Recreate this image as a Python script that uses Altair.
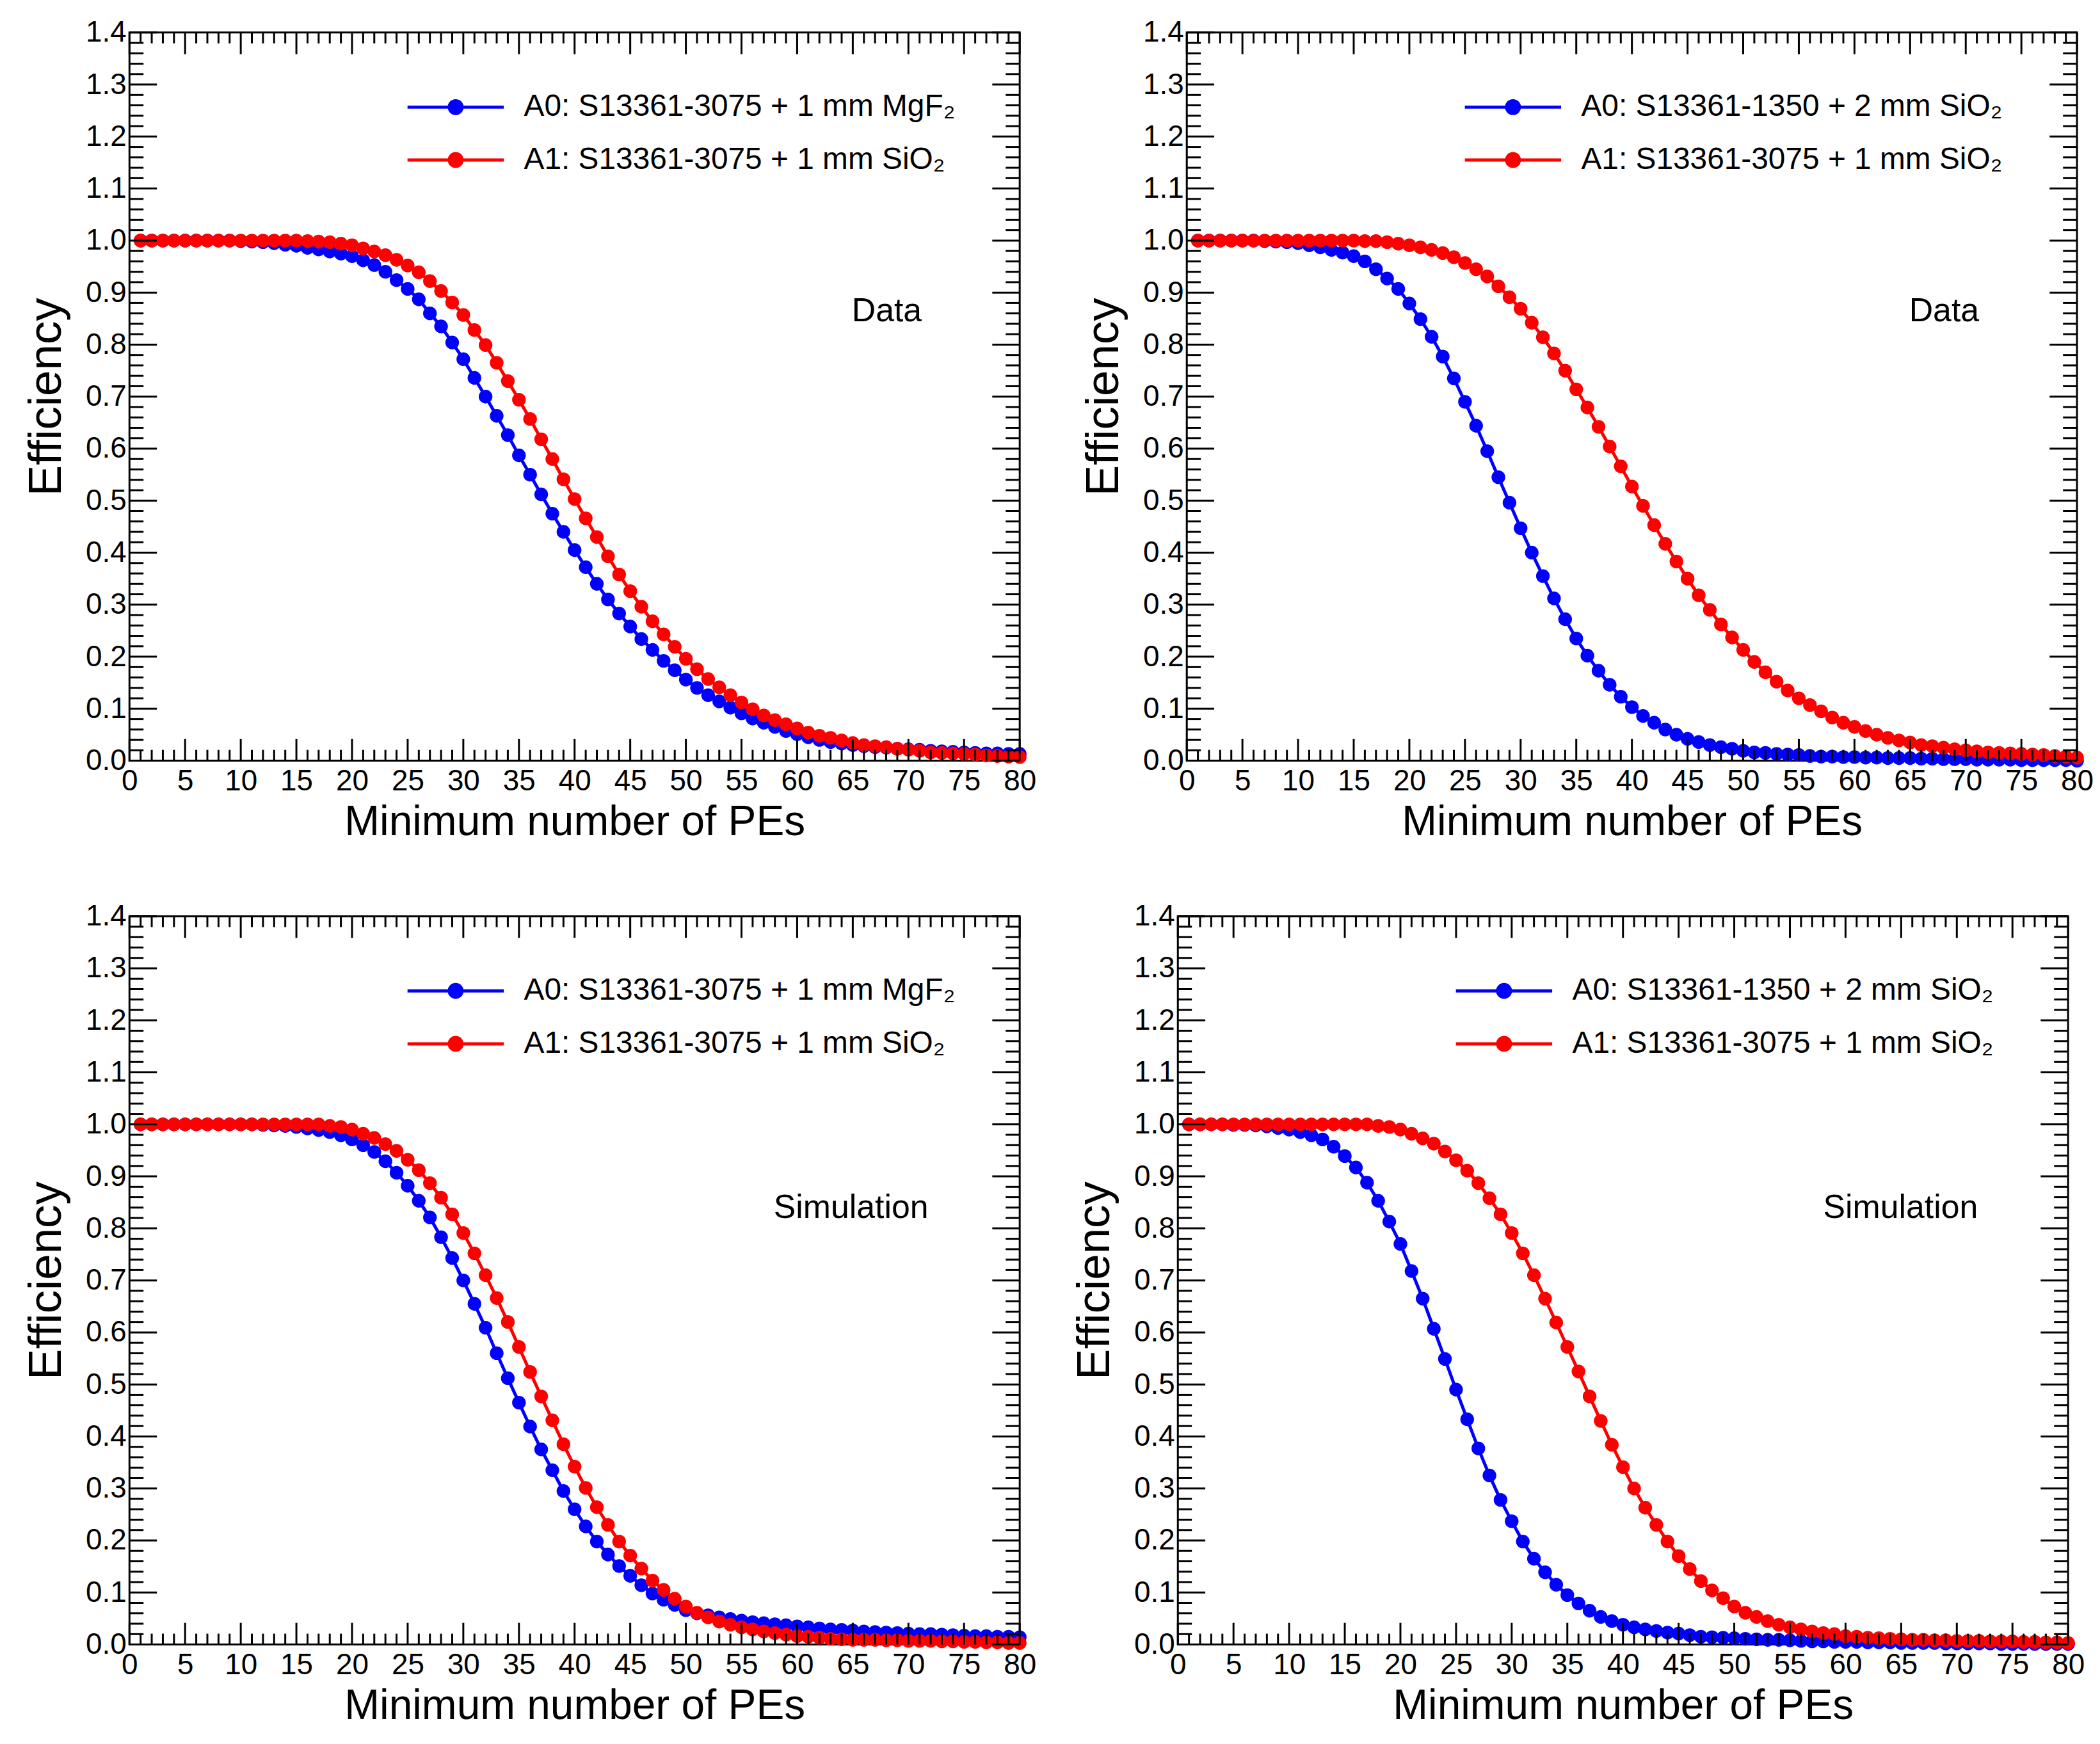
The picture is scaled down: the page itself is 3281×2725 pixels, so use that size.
import altair as alt
import pandas as pd

# ---------------- data ----------------
PE = list(range(1, 81))

# top-left (Data): A0 = S13361-3075 + 1 mm MgF2, A1 = S13361-3075 + 1 mm SiO2
TL_A0 = [1.0, 1.0, 1.0, 1.0, 1.0, 1.0, 1.0, 1.0, 1.0, 0.999,
         0.998, 0.997, 0.995, 0.992, 0.990, 0.986, 0.983, 0.979, 0.975, 0.970,
         0.962, 0.953, 0.940, 0.924, 0.907, 0.887, 0.860, 0.835, 0.804, 0.772,
         0.736, 0.700, 0.663, 0.626, 0.587, 0.550, 0.512, 0.475, 0.440, 0.405,
         0.372, 0.340, 0.310, 0.283, 0.258, 0.234, 0.213, 0.192, 0.174, 0.156,
         0.140, 0.126, 0.114, 0.102, 0.091, 0.081, 0.073, 0.065, 0.057, 0.051,
         0.045, 0.040, 0.036, 0.033, 0.030, 0.028, 0.026, 0.025, 0.023, 0.022,
         0.021, 0.019, 0.018, 0.017, 0.016, 0.015, 0.014, 0.014, 0.013, 0.013]
TL_A1 = [1.0, 1.0, 1.0, 1.0, 1.0, 1.0, 1.0, 1.0, 1.0, 1.0,
         1.0, 1.0, 1.0, 1.0, 1.0, 0.999, 0.998, 0.997, 0.994, 0.991,
         0.985, 0.979, 0.972, 0.963, 0.952, 0.939, 0.922, 0.903, 0.881, 0.857,
         0.828, 0.799, 0.765, 0.730, 0.694, 0.657, 0.618, 0.580, 0.541, 0.503,
         0.466, 0.430, 0.393, 0.358, 0.326, 0.296, 0.268, 0.243, 0.219, 0.196,
         0.176, 0.157, 0.141, 0.126, 0.112, 0.099, 0.087, 0.078, 0.070, 0.062,
         0.054, 0.048, 0.044, 0.039, 0.034, 0.030, 0.028, 0.026, 0.023, 0.021,
         0.019, 0.016, 0.015, 0.014, 0.013, 0.012, 0.010, 0.009, 0.008, 0.007]

# top-right (Data): A0 = S13361-1350 + 2 mm SiO2, A1 = S13361-3075 + 1 mm SiO2
TR_A0 = [1.0, 1.0, 1.0, 1.0, 1.0, 1.0, 0.999, 0.998, 0.997, 0.995,
         0.991, 0.987, 0.982, 0.977, 0.970, 0.960, 0.945, 0.927, 0.907, 0.879,
         0.849, 0.815, 0.777, 0.735, 0.690, 0.644, 0.595, 0.545, 0.496, 0.447,
         0.400, 0.355, 0.312, 0.272, 0.235, 0.202, 0.173, 0.146, 0.123, 0.103,
         0.086, 0.073, 0.060, 0.050, 0.042, 0.036, 0.030, 0.026, 0.023, 0.019,
         0.016, 0.015, 0.013, 0.012, 0.011, 0.009, 0.008, 0.008, 0.007, 0.007,
         0.006, 0.006, 0.005, 0.005, 0.005, 0.004, 0.004, 0.003, 0.003, 0.003,
         0.002, 0.002, 0.002, 0.002, 0.001, 0.001, 0.001, 0.001, 0.001, 0.000]
TR_A1 = [1.0, 1.0, 1.0, 1.0, 1.0, 1.0, 1.0, 1.0, 1.0, 1.0,
         1.0, 1.0, 1.0, 1.0, 1.0, 0.999, 0.999, 0.997, 0.994, 0.991,
         0.987, 0.982, 0.976, 0.968, 0.957, 0.945, 0.931, 0.912, 0.891, 0.869,
         0.842, 0.814, 0.783, 0.750, 0.714, 0.679, 0.642, 0.604, 0.566, 0.527,
         0.490, 0.453, 0.417, 0.383, 0.350, 0.318, 0.290, 0.262, 0.237, 0.213,
         0.190, 0.170, 0.152, 0.135, 0.120, 0.107, 0.095, 0.083, 0.073, 0.065,
         0.057, 0.050, 0.044, 0.039, 0.035, 0.030, 0.028, 0.025, 0.022, 0.020,
         0.018, 0.016, 0.015, 0.014, 0.013, 0.012, 0.011, 0.009, 0.008, 0.006]

# bottom-left (Simulation)
BL_A0 = [1.0, 1.0, 1.0, 1.0, 1.0, 1.0, 1.0, 1.0, 1.0, 1.0,
         1.0, 0.999, 0.998, 0.997, 0.995, 0.992, 0.989, 0.985, 0.979, 0.971,
         0.960, 0.947, 0.929, 0.907, 0.882, 0.853, 0.821, 0.783, 0.743, 0.700,
         0.655, 0.609, 0.560, 0.512, 0.465, 0.419, 0.375, 0.335, 0.295, 0.260,
         0.227, 0.198, 0.173, 0.151, 0.132, 0.114, 0.098, 0.086, 0.076, 0.066,
         0.060, 0.056, 0.052, 0.049, 0.046, 0.043, 0.041, 0.039, 0.037, 0.035,
         0.033, 0.031, 0.029, 0.028, 0.027, 0.025, 0.024, 0.023, 0.022, 0.021,
         0.020, 0.020, 0.019, 0.018, 0.017, 0.016, 0.016, 0.015, 0.015, 0.014]
BL_A1 = [1.0, 1.0, 1.0, 1.0, 1.0, 1.0, 1.0, 1.0, 1.0, 1.0,
         1.0, 1.0, 1.0, 1.0, 1.0, 1.0, 1.0, 0.997, 0.995, 0.990,
         0.982, 0.974, 0.962, 0.949, 0.932, 0.912, 0.887, 0.859, 0.827, 0.791,
         0.752, 0.710, 0.666, 0.620, 0.572, 0.524, 0.477, 0.431, 0.385, 0.342,
         0.301, 0.264, 0.230, 0.198, 0.171, 0.146, 0.123, 0.105, 0.088, 0.073,
         0.061, 0.052, 0.044, 0.038, 0.033, 0.029, 0.025, 0.022, 0.019, 0.016,
         0.015, 0.013, 0.011, 0.010, 0.009, 0.009, 0.009, 0.008, 0.008, 0.007,
         0.007, 0.007, 0.006, 0.006, 0.005, 0.005, 0.004, 0.004, 0.003, 0.003]

# bottom-right (Simulation)
BR_A0 = [1.0, 1.0, 1.0, 1.0, 0.999, 0.999, 0.998, 0.996, 0.993, 0.990,
         0.985, 0.979, 0.971, 0.957, 0.939, 0.917, 0.888, 0.853, 0.813, 0.770,
         0.718, 0.665, 0.607, 0.549, 0.490, 0.433, 0.377, 0.325, 0.278, 0.237,
         0.198, 0.165, 0.139, 0.115, 0.095, 0.079, 0.065, 0.053, 0.045, 0.038,
         0.033, 0.029, 0.026, 0.023, 0.021, 0.018, 0.015, 0.014, 0.013, 0.012,
         0.011, 0.010, 0.009, 0.009, 0.008, 0.007, 0.006, 0.006, 0.005, 0.005,
         0.005, 0.004, 0.004, 0.004, 0.003, 0.003, 0.003, 0.003, 0.002, 0.002,
         0.002, 0.002, 0.002, 0.001, 0.001, 0.001, 0.001, 0.001, 0.001, 0.001]
BR_A1 = [1.0, 1.0, 1.0, 1.0, 1.0, 1.0, 1.0, 1.0, 1.0, 1.0,
         1.0, 1.0, 1.0, 1.0, 1.0, 1.0, 1.0, 0.997, 0.995, 0.990,
         0.982, 0.973, 0.963, 0.948, 0.931, 0.911, 0.887, 0.858, 0.827, 0.791,
         0.752, 0.710, 0.665, 0.619, 0.572, 0.525, 0.477, 0.430, 0.384, 0.341,
         0.300, 0.263, 0.230, 0.198, 0.170, 0.145, 0.122, 0.104, 0.089, 0.073,
         0.061, 0.053, 0.045, 0.038, 0.033, 0.029, 0.025, 0.022, 0.020, 0.016,
         0.015, 0.013, 0.012, 0.011, 0.010, 0.009, 0.009, 0.008, 0.008, 0.007,
         0.007, 0.007, 0.006, 0.006, 0.006, 0.005, 0.005, 0.004, 0.004, 0.003]

LAB_MGF = "A0: S13361-3075 + 1 mm MgF\u2082"
LAB_1350 = "A0: S13361-1350 + 2 mm SiO\u2082"
LAB_3075 = "A1: S13361-3075 + 1 mm SiO\u2082"

X_TICKS = [0, 5, 10, 15, 20, 25, 30, 35, 40, 45, 50, 55, 60, 65, 70, 75, 80]
Y_TICKS = [0.0, 0.1, 0.2, 0.3, 0.4, 0.5, 0.6, 0.7, 0.8, 0.9, 1.0, 1.1, 1.2, 1.3, 1.4]
X_MINOR = [i for i in range(81) if i % 5]
Y_MINOR = [round(0.02 * i, 2) for i in range(71) if i % 5]

# ---------------- style ----------------
FONT = "Liberation Sans"
W, H = 1396, 1142
BLUE, RED = "#0000ff", "#ff0000"
YMAJ_LEN, YMIN_LEN = 43, 22
XMAJ_LEN, XMIN_LEN = 34, 17
LEG_PATH = "M-3.775,0H3.775M-0.5,0A0.5,0.5,0,1,1,0.5,0A0.5,0.5,0,1,1,-0.5,0Z"


def panel(a0, a1, lab0, lab1, tag, tag_x, tag_y):
    df = pd.DataFrame({"pe": PE * 2, "eff": a0 + a1,
                       "series": [lab0] * len(a0) + [lab1] * len(a1)})
    xs = alt.Scale(domain=[0, 80], nice=False, zero=False)
    ys = alt.Scale(domain=[0, 1.4], nice=False, zero=False)
    xax = alt.Axis(values=X_TICKS, format="d", title="Minimum number of PEs",
                   titleFontSize=66, titlePadding=9)
    yax = alt.Axis(values=Y_TICKS, format=".1f", title="Efficiency",
                   titleFontSize=73, titlePadding=24)
    dom = [lab0, lab1]
    leg = alt.Legend(orient="none", legendX=432, legendY=93, title=None,
                     symbolType=LEG_PATH, symbolSize=1600, symbolStrokeWidth=5,
                     symbolOffset=55.5, labelOffset=83, labelFont=FONT,
                     labelFontSize=48, labelColor="black", labelLimit=2000,
                     rowPadding=35, padding=0)
    base = alt.Chart(df)
    line = base.mark_line(strokeWidth=5).encode(
        x=alt.X("pe:Q", scale=xs, axis=xax),
        y=alt.Y("eff:Q", scale=ys, axis=yax),
        stroke=alt.Stroke("series:N", scale=alt.Scale(domain=dom, range=[BLUE, RED]), legend=leg),
    )
    pts = base.mark_circle(size=460, opacity=1).encode(
        x=alt.X("pe:Q", scale=xs, axis=xax),
        y=alt.Y("eff:Q", scale=ys, axis=yax),
        fill=alt.Fill("series:N", scale=alt.Scale(domain=dom, range=[BLUE, RED]), legend=leg),
    )
    tdf = pd.DataFrame({"pe": [tag_x], "eff": [tag_y], "t": [tag]})
    txt = alt.Chart(tdf).mark_text(align="right", baseline="middle", fontSize=52,
                                   font=FONT, color="black").encode(
        x=alt.X("pe:Q", scale=xs, axis=xax),
        y=alt.Y("eff:Q", scale=ys, axis=yax),
        text="t:N",
    )

    def xrules(vals, length):
        d = pd.DataFrame({"pe": vals})
        c = alt.Chart(d).mark_rule(color="black", strokeWidth=3)
        bot = c.encode(x=alt.X("pe:Q", scale=xs, axis=xax),
                       y=alt.value(H - length), y2=alt.value(H))
        top = c.encode(x=alt.X("pe:Q", scale=xs, axis=xax),
                       y=alt.value(0), y2=alt.value(length))
        return [bot, top]

    def yrules(vals, length):
        d = pd.DataFrame({"eff": vals})
        c = alt.Chart(d).mark_rule(color="black", strokeWidth=3)
        lef = c.encode(y=alt.Y("eff:Q", scale=ys, axis=yax),
                       x=alt.value(0), x2=alt.value(length))
        rig = c.encode(y=alt.Y("eff:Q", scale=ys, axis=yax),
                       x=alt.value(W - length), x2=alt.value(W))
        return [lef, rig]

    layers = [line, pts, txt] + xrules(X_TICKS, XMAJ_LEN) + xrules(X_MINOR, XMIN_LEN) \
        + yrules(Y_TICKS, YMAJ_LEN) + yrules(Y_MINOR, YMIN_LEN)
    return alt.layer(*layers).properties(width=W, height=H)


p_tl = panel(TL_A0, TL_A1, LAB_MGF, LAB_3075, "Data", 71.2, 0.865)
p_tr = panel(TR_A0, TR_A1, LAB_1350, LAB_3075, "Data", 71.2, 0.865)
p_bl = panel(BL_A0, BL_A1, LAB_MGF, LAB_3075, "Simulation", 71.8, 0.84)
p_br = panel(BR_A0, BR_A1, LAB_1350, LAB_3075, "Simulation", 71.9, 0.84)

row1 = alt.hconcat(p_tl, p_tr, spacing=66).resolve_scale(
    stroke="independent", fill="independent").resolve_legend(
    stroke="independent", fill="independent")
row2 = alt.hconcat(p_bl, p_br, spacing=52).resolve_scale(
    stroke="independent", fill="independent").resolve_legend(
    stroke="independent", fill="independent")

chart = alt.vconcat(row1, row2, spacing=88).resolve_scale(
    stroke="independent", fill="independent").resolve_legend(
    stroke="independent", fill="independent").properties(
    padding={"left": 27, "top": 13, "right": 0, "bottom": 0},
    background="white",
).configure_view(
    stroke="black", strokeWidth=3
).configure_axis(
    domain=False, grid=False, ticks=False, labelFont=FONT, labelFontSize=46,
    labelColor="black", titleFont=FONT, titleFontWeight="normal",
    titleColor="black", labelFlush=False, labelOverlap=False,
).configure_axisX(
    labelPadding=10
).configure_axisY(
    labelPadding=5
)

chart.save("out.html", embed_options={"renderer": "svg", "actions": False})
